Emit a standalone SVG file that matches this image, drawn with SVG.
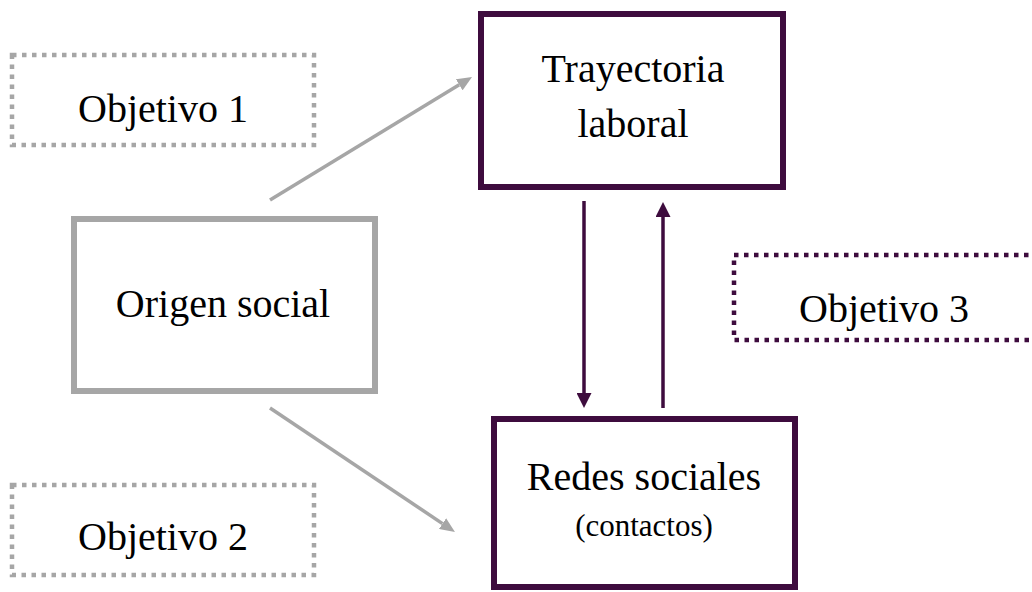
<svg xmlns="http://www.w3.org/2000/svg" width="1032" height="592" viewBox="0 0 1032 592">
  <style>
    .lbl { font-family: "Liberation Serif", "Times New Roman", serif; font-size: 40px; fill: #000; text-anchor: middle; }
    .small { font-size: 31px; }
    .box-gray { fill: #fff; stroke: #a6a6a6; stroke-width: 6; }
    .box-purple { fill: #fff; stroke: #3e0c3e; stroke-width: 6; }
    .dot-gray { fill: none; stroke: #a6a6a6; stroke-width: 4.5; stroke-dasharray: 4.5 5.5; }
    .dot-purple { fill: none; stroke: #3e0c3e; stroke-width: 4.5; stroke-dasharray: 4.5 5.5; }
    .link-gray { stroke: #a6a6a6; stroke-width: 3.5; fill: none; }
    .link-purple { stroke: #3e0c3e; stroke-width: 3.5; fill: none; }
  </style>
  <defs>
    <marker id="head-gray" markerUnits="userSpaceOnUse" markerWidth="15" markerHeight="13" refX="0" refY="6.5" orient="auto">
      <path d="M0,0 L15,6.5 L0,13 z" fill="#a6a6a6"/>
    </marker>
    <marker id="head-purple" markerUnits="userSpaceOnUse" markerWidth="15" markerHeight="15" refX="0" refY="7.5" orient="auto">
      <path d="M0,0 L15,7.5 L0,15 z" fill="#3e0c3e"/>
    </marker>
  </defs>

  <rect width="1032" height="592" fill="#fff"/>

  <!-- objective labels (dotted frames) -->
  <g id="objetivo1">
    <rect class="dot-gray" x="12" y="55" width="302" height="90"/>
    <text class="lbl" x="163" y="122">Objetivo 1</text>
  </g>
  <g id="objetivo2">
    <rect class="dot-gray" x="12" y="485" width="302" height="90"/>
    <text class="lbl" x="163" y="550">Objetivo 2</text>
  </g>
  <g id="objetivo3">
    <rect class="dot-purple" x="734" y="255" width="310" height="85"/>
    <text class="lbl" x="884" y="322">Objetivo 3</text>
  </g>

  <!-- main concepts -->
  <g id="origen-social">
    <rect class="box-gray" x="74" y="219" width="301" height="172"/>
    <text class="lbl" x="223" y="317">Origen social</text>
  </g>
  <g id="trayectoria-laboral">
    <rect class="box-purple" x="481" y="14" width="302" height="173"/>
    <text class="lbl" x="633" y="82">Trayectoria</text>
    <text class="lbl" x="633" y="137">laboral</text>
  </g>
  <g id="redes-sociales">
    <rect class="box-purple" x="494" y="419" width="301" height="168"/>
    <text class="lbl" x="644" y="490">Redes sociales</text>
    <text class="lbl small" x="644" y="536">(contactos)</text>
  </g>

  <!-- connectors -->
  <g id="connectors">
    <line class="link-gray" x1="270" y1="200" x2="459.2" y2="84.8" marker-end="url(#head-gray)"/>
    <line class="link-gray" x1="270" y1="408" x2="442.5" y2="523.6" marker-end="url(#head-gray)"/>
    <line class="link-purple" x1="584" y1="201" x2="584" y2="393" marker-end="url(#head-purple)"/>
    <line class="link-purple" x1="663" y1="408" x2="663" y2="217" marker-end="url(#head-purple)"/>
  </g>
</svg>
